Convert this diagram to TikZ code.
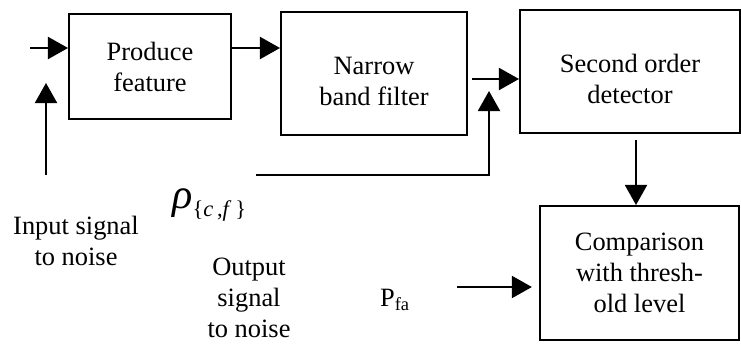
\documentclass[tikz,border=0pt]{standalone}
\usepackage{fontspec}
\setmainfont{Liberation Serif}
\usetikzlibrary{arrows.meta,positioning,calc}
\newcommand{\bodyfont}{\fontsize{18.8}{22}\selectfont}
\tikzset{
  block/.style={draw, line width=1.4pt, font=\bodyfont, align=center, inner sep=0pt},
  note/.style={font=\bodyfont, align=center, inner sep=0pt},
  arr/.style={-{Triangle[length=0.5cm,width=0.55cm]}, line width=1.4pt},
}
\begin{document}
\begin{tikzpicture}[x=0.025cm, y=-0.025cm]
\useasboundingbox (0,0) rectangle (741,343);

% --- Blocks ---
\node[block, minimum width=4.05cm, minimum height=2.62cm] (prod) at (150,66.5) {Produce\\feature};
\node[block, minimum width=4.65cm, minimum height=3.07cm,
      label={[note, yshift=-0.2cm]center:Narrow\\band filter}] (filt) at (374,73.5) {};
\node[block, minimum width=5.5cm, minimum height=3.07cm,
      label={[note, yshift=-0.19cm]center:Second order\\detector}] (det) at (630,71.5) {};
\node[block, minimum width=4.97cm, minimum height=3.35cm] (comp) at (639.5,273) {Comparison\\with thresh-\\old level};

% --- Labels ---
\node[note] (snrin) at (76,241) {Input signal\\to noise};
\node[anchor=base west, inner sep=0pt] (rho) at (172,208)
      {\fontsize{30}{30}\selectfont\textit{ρ}\raisebox{-0.22cm}{\fontsize{16}{16}\selectfont\{\textit{c}\,,\textit{f}\,\}}};
\node[note] (snrout) at (249,298) {Output\\signal\\to noise};
\node[note] (pfa) at (395,300) {P\textsubscript{fa}};

% --- Connector ends ---
\coordinate (inL) at (30,48);
\coordinate (snrB) at (46,175);
\coordinate (snrT) at (46,83);
\coordinate (jn) at (472,79);
\coordinate (rhoL) at (256,175);
\coordinate (rhoT) at (489,91);
\coordinate (dn) at (636,140);
\coordinate (pfaL) at (457,287);

% --- Connectors ---
\draw[arr] (inL) -- (inL -| prod.west);
\draw[arr] (snrB) -- (snrT);
\draw[arr] (prod.east |- inL) -- (filt.west |- inL);
\draw[arr] (jn) -- (jn -| det.west);
\draw[arr] (rhoL) -| (rhoT);
\draw[arr] (dn) -- (dn |- comp.north);
\draw[arr] (pfaL) -- ([xshift=-0.18cm]comp.west |- pfaL);

\end{tikzpicture}
\end{document}
